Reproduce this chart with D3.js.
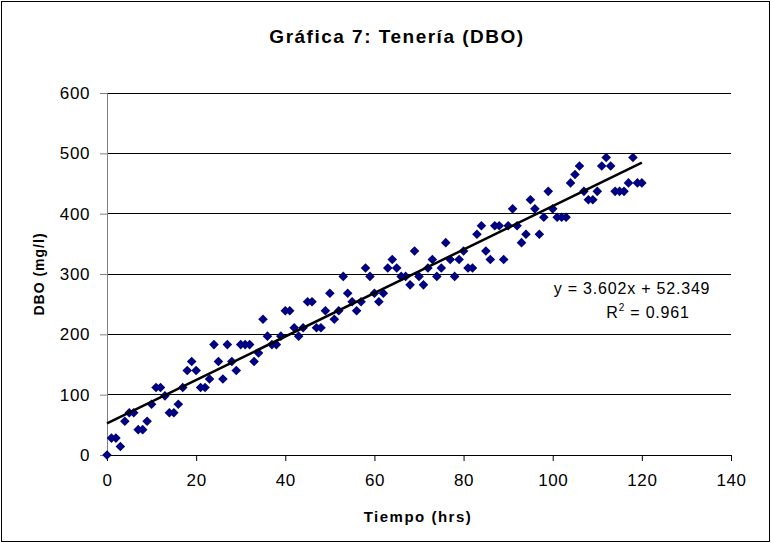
<!DOCTYPE html>
<html>
<head>
<meta charset="utf-8">
<script src="https://cdn.jsdelivr.net/npm/d3@7"></script>
<style>
  body { margin: 0; background: #fff; }
  svg { display: block; font-family: Arial, "Liberation Sans", sans-serif; }
</style>
</head>
<body>
<svg width="771" height="543"></svg>
<script>
// hours 0..120, one reading per hour
const horas = d3.range(0, 121);
const dbo = [
  0, 28, 28, 14, 56, 70, 70, 42, 42, 56,
  84, 112, 112, 98, 70, 70, 84, 112, 140, 155,
  140, 112, 112, 126, 183, 155, 126, 183, 155, 140,
  183, 183, 183, 155, 169, 225, 197, 183, 183, 197,
  239, 239, 211, 197, 211, 254, 254, 211, 211, 239,
  268, 225, 239, 296, 268, 254, 239, 254, 310, 296,
  268, 254, 268, 310, 324, 310, 296, 296, 282, 338,
  296, 282, 310, 324, 296, 310, 352, 324, 296, 324,
  338, 310, 310, 366, 380, 338, 324, 380, 380, 324,
  380, 408, 380, 352, 366, 423, 408, 366, 394, 437,
  408, 394, 394, 394, 451, 465, 479, 437, 423, 423,
  437, 479, 493, 479, 437, 437, 437, 451, 493, 451,
  451
];
const xTicks = [0, 20, 40, 60, 80, 100, 120, 140];
const yTicks = [0, 100, 200, 300, 400, 500, 600];
const pendiente = 3.602, intercepto = 52.349;
const ecuacion = "y = 3.602x + 52.349";
const r2 = "0.961";

const svg = d3.select("svg");
const width = +svg.attr("width");
const height = +svg.attr("height");

const plot = { left: 107, right: 731, top: 93, bottom: 455 };

// outer frame
svg.append("rect")
  .attr("x", 1.5).attr("y", 1.5)
  .attr("width", width - 3).attr("height", height - 3)
  .attr("fill", "none").attr("stroke", "#000").attr("stroke-width", 1);

const x = d3.scaleLinear().domain([0, 140]).range([plot.left, plot.right]);
const y = d3.scaleLinear().domain([0, 600]).range([plot.bottom, plot.top]);

// gridlines
svg.append("g")
  .selectAll("line")
  .data(yTicks.filter(d => d > 0))
  .enter().append("line")
  .attr("x1", plot.left).attr("x2", plot.right)
  .attr("y1", d => y(d)).attr("y2", d => y(d))
  .attr("stroke", "#000").attr("stroke-width", 1)
  .attr("shape-rendering", "crispEdges");

// y axis
const gy = svg.append("g")
  .attr("transform", `translate(${plot.left},0)`)
  .call(d3.axisLeft(y).tickValues(yTicks).tickSize(7).tickPadding(10));
gy.select(".domain").attr("stroke", "#808080");
gy.selectAll(".tick line").attr("stroke", "#808080");
gy.selectAll("text").style("font-size", "17px").style("letter-spacing", "0.6px").attr("fill", "#000");

// x axis
const gx = svg.append("g")
  .attr("transform", `translate(0,${plot.bottom})`)
  .call(d3.axisBottom(x).tickValues(xTicks).tickSize(6).tickPadding(13));
gx.select(".domain").attr("stroke", "#000");
gx.selectAll("text").style("font-size", "17px").style("letter-spacing", "0.6px").attr("fill", "#000");

// points
const diamond = d3.symbol().type(d3.symbolSquare).size(46);
svg.append("g")
  .selectAll("path")
  .data(horas)
  .enter().append("path")
  .attr("d", diamond)
  .attr("transform", (d, i) => `translate(${x(d)},${y(dbo[i])}) rotate(45)`)
  .attr("fill", "#000080");

// trend line
svg.append("line")
  .attr("x1", x(0)).attr("y1", y(intercepto))
  .attr("x2", x(120)).attr("y2", y(pendiente * 120 + intercepto))
  .attr("stroke", "#000").attr("stroke-width", 2.5);

// equation
svg.append("text")
  .attr("x", 632).attr("y", 294)
  .attr("text-anchor", "middle")
  .style("font-size", "16px").style("letter-spacing", "0.8px")
  .text(ecuacion);
const rt = svg.append("text")
  .attr("x", 648).attr("y", 318)
  .attr("text-anchor", "middle")
  .style("font-size", "16px").style("letter-spacing", "0.8px");
rt.append("tspan").text("R");
rt.append("tspan").attr("dy", -7).style("font-size", "10px").text("2");
rt.append("tspan").attr("dy", 7).text(" = " + r2);

// title & labels
svg.append("text")
  .attr("x", 397).attr("y", 43)
  .attr("text-anchor", "middle")
  .style("font-size", "19px").style("font-weight", "bold").style("letter-spacing", "1.5px")
  .text("Gráfica 7: Tenería (DBO)");

svg.append("text")
  .attr("x", 418).attr("y", 522)
  .attr("text-anchor", "middle")
  .style("font-size", "15px").style("font-weight", "bold").style("letter-spacing", "1.5px")
  .text("Tiempo (hrs)");

svg.append("text")
  .attr("transform", "translate(44,274) rotate(-90)")
  .attr("text-anchor", "middle")
  .style("font-size", "14px").style("font-weight", "bold").style("letter-spacing", "1px")
  .text("DBO (mg/l)");
</script>
</body>
</html>
